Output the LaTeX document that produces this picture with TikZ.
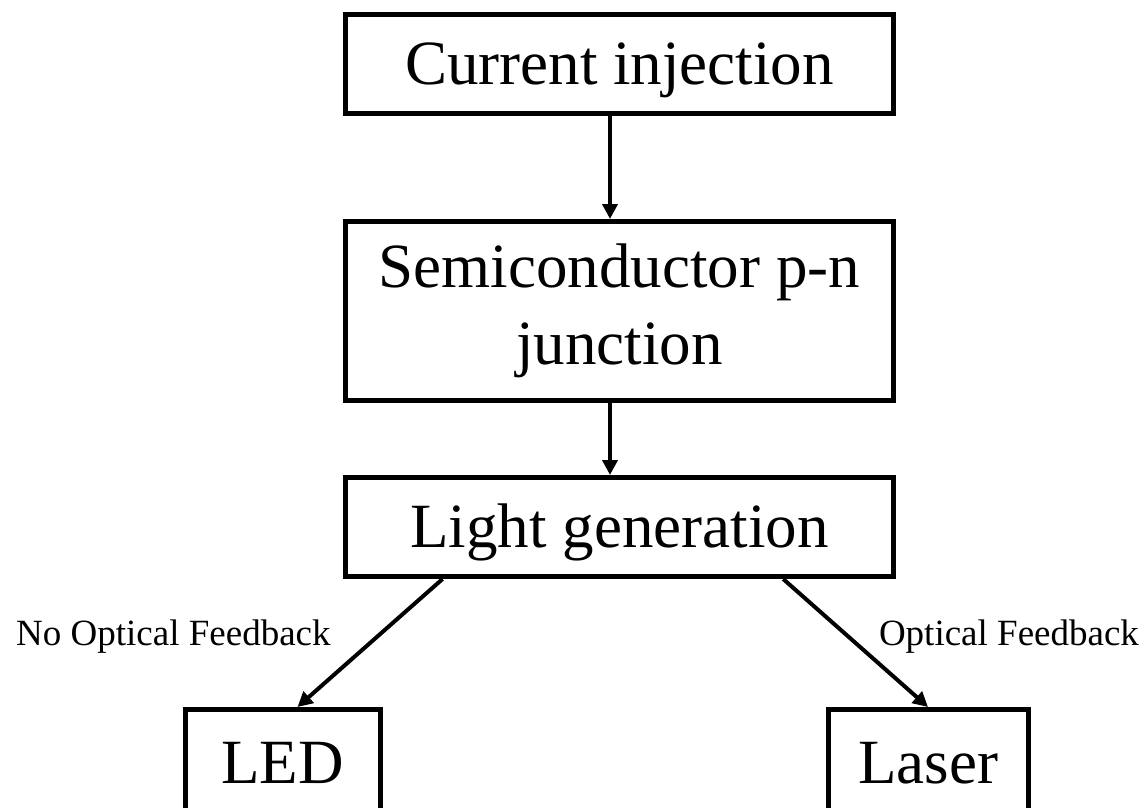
\documentclass[tikz,border=0pt]{standalone}
\usepackage{fontspec}
\setmainfont{Liberation Serif}
\usetikzlibrary{positioning,arrows.meta,calc}
\tikzset{
  node-box/.style={draw=black,line width=2.5pt,minimum height=49.5pt,
    minimum width=274pt,align=center,inner sep=0pt,
    font=\fontsize{31.5}{38.5}\selectfont},
  node-line/.style={text height=20.8pt,text depth=0pt},
  node-tall/.style={minimum height=89.5pt},
  node-end/.style={node-box,node-line,minimum height=53pt},
  arrow/.style={-{Triangle[length=7.5pt,width=7.5pt]},line width=2pt,draw=black},
  edge-label/.style={font=\fontsize{18.5}{22}\selectfont},
}
\begin{document}
\begin{tikzpicture}[node distance=51.5pt]
  \useasboundingbox (0,0) rectangle (573pt,-404pt);
  \clip (0,0) rectangle (573pt,-404pt);
  \node[node-box,node-line,anchor=north] (inj) at (309.75pt,-6pt) {Current injection};
  \node[node-box,node-tall,below=of inj] (pn) {Semiconductor p-n\\junction};
  \node[node-box,node-line,below=36pt of pn] (gen) {Light generation};
  \node[node-end,minimum width=97.5pt,below=64pt of gen,xshift=-168.5pt] (led) {LED};
  \node[node-end,minimum width=100pt,below=64pt of gen,xshift=154.25pt] (laser) {Laser};
  % vertical chain
  \draw[arrow] ([xshift=-4.75pt]inj.south) -- ([xshift=-4.75pt]pn.north);
  \draw[arrow] ([xshift=-4.75pt]pn.south) -- ([xshift=-4.75pt]gen.north);
  % the two branches
  \draw[arrow] ($(gen.south west)!0.18!(gen.south east)$) --
    node[edge-label,pos=0.45,left=19pt]{No Optical Feedback} ([xshift=7.5pt]led.north);
  \draw[arrow] ($(gen.south west)!0.796!(gen.south east)$) --
    node[edge-label,pos=0.45,right=11pt]{Optical Feedback} (laser.north);
\end{tikzpicture}
\end{document}
